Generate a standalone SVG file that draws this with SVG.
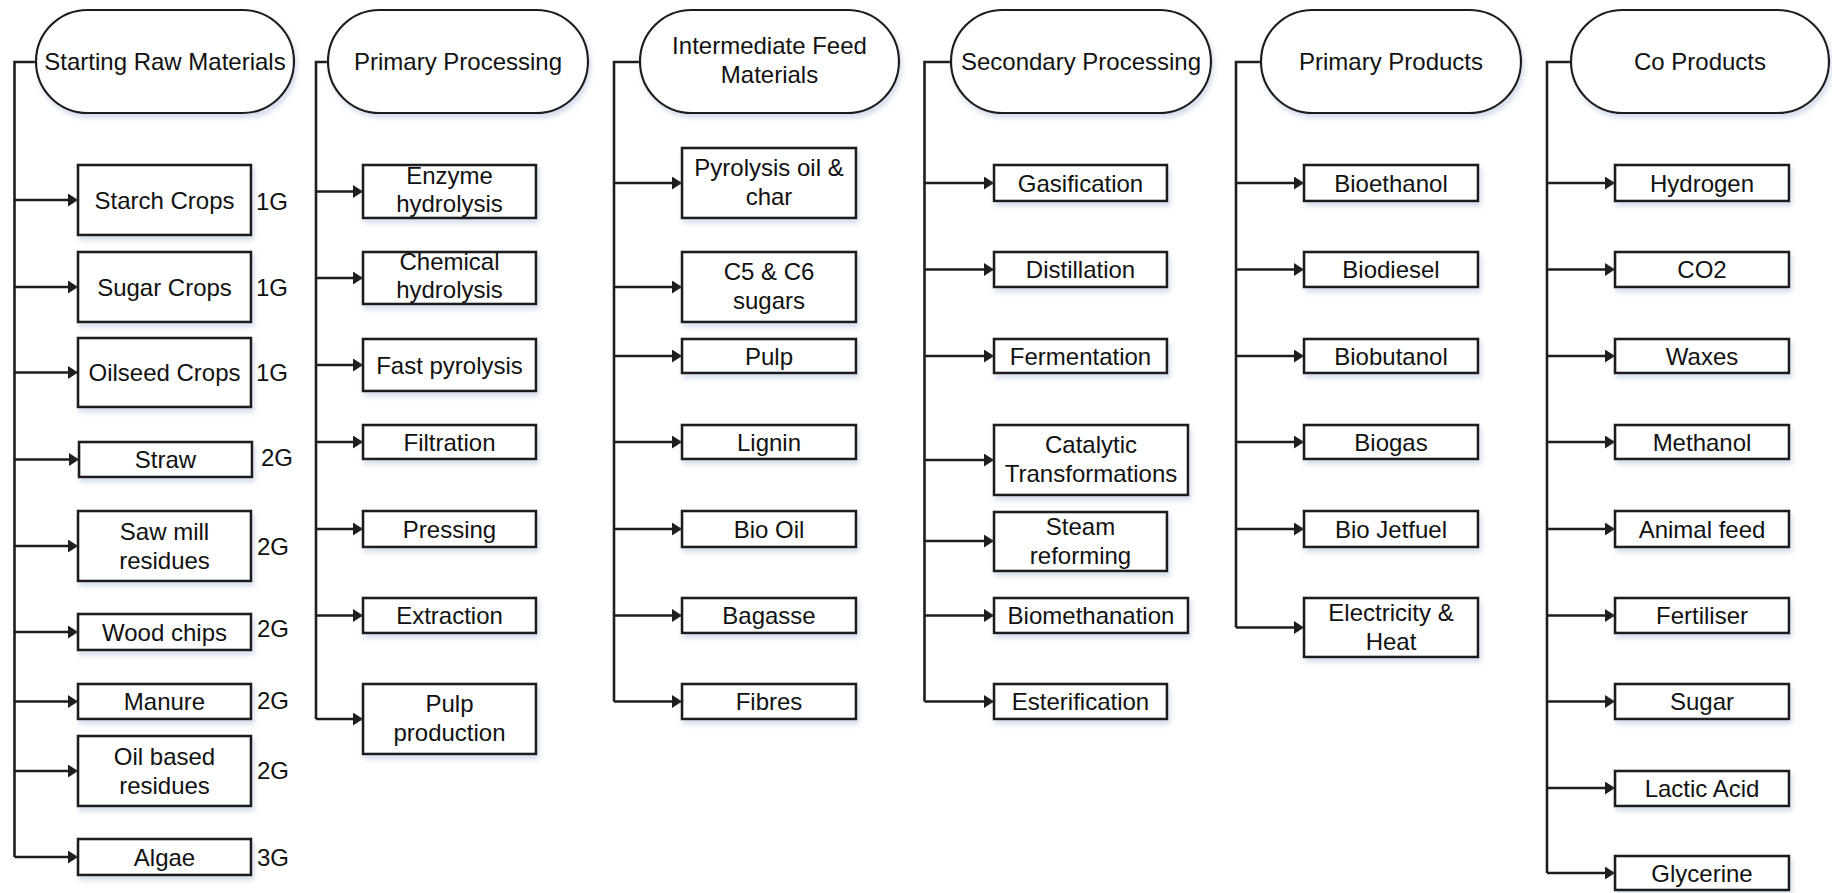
<svg xmlns="http://www.w3.org/2000/svg" width="1832" height="893" viewBox="0 0 1832 893">
<defs>
<style>
.bx{fill:#fff;stroke:#1e1e1e;stroke-width:2.6;filter:url(#sh)}
.hd{fill:#fff;stroke:#1e1e1e;stroke-width:2.2;filter:url(#sh)}
text{font-family:"Liberation Sans",Arial,sans-serif;font-size:24px;fill:#111;text-anchor:middle}
.g{text-anchor:start}
.ln{fill:none;stroke:#1e1e1e;stroke-width:2.6}
.ar{fill:none;stroke:#1e1e1e;stroke-width:2.6;marker-end:url(#ah)}
</style>
<filter id="sh" x="-10%" y="-10%" width="130%" height="140%">
<feDropShadow dx="2" dy="4" stdDeviation="2.5" flood-color="#b8c8e0" flood-opacity="0.6"/>
</filter>
<marker id="ah" markerUnits="userSpaceOnUse" markerWidth="11" markerHeight="13" refX="10" refY="6.5" orient="auto">
<path d="M0,0 L10,6.5 L0,13 z" fill="#1e1e1e"/>
</marker>
</defs>
<rect width="1832" height="893" fill="#fff"/>

<g id="connectors">
<!-- column 1 -->
<path class="ln" d="M36,62 H14.5 V857"/>
<path class="ar" d="M14.5,200 H78"/>
<path class="ar" d="M14.5,287 H78"/>
<path class="ar" d="M14.5,372.5 H78"/>
<path class="ar" d="M14.5,459.5 H79"/>
<path class="ar" d="M14.5,546 H78"/>
<path class="ar" d="M14.5,632 H78"/>
<path class="ar" d="M14.5,701.5 H78"/>
<path class="ar" d="M14.5,771 H78"/>
<path class="ar" d="M14.5,857 H78"/>
<!-- column 2 -->
<path class="ln" d="M328,62 H316 V719"/>
<path class="ar" d="M316,191.5 H363"/>
<path class="ar" d="M316,278 H363"/>
<path class="ar" d="M316,365 H363"/>
<path class="ar" d="M316,442 H363"/>
<path class="ar" d="M316,529 H363"/>
<path class="ar" d="M316,615.5 H363"/>
<path class="ar" d="M316,719 H363"/>
<!-- column 3 -->
<path class="ln" d="M640,62 H614 V701.5"/>
<path class="ar" d="M614,183 H682"/>
<path class="ar" d="M614,287 H682"/>
<path class="ar" d="M614,356 H682"/>
<path class="ar" d="M614,442 H682"/>
<path class="ar" d="M614,529 H682"/>
<path class="ar" d="M614,615.5 H682"/>
<path class="ar" d="M614,701.5 H682"/>
<!-- column 4 -->
<path class="ln" d="M951,62 H924.5 V701.5"/>
<path class="ar" d="M924.5,183 H994"/>
<path class="ar" d="M924.5,269.5 H994"/>
<path class="ar" d="M924.5,356 H994"/>
<path class="ar" d="M924.5,460 H994"/>
<path class="ar" d="M924.5,541 H994"/>
<path class="ar" d="M924.5,615.5 H994"/>
<path class="ar" d="M924.5,701.5 H994"/>
<!-- column 5 -->
<path class="ln" d="M1261,62 H1236 V627.5"/>
<path class="ar" d="M1236,183 H1304"/>
<path class="ar" d="M1236,269.5 H1304"/>
<path class="ar" d="M1236,356 H1304"/>
<path class="ar" d="M1236,442 H1304"/>
<path class="ar" d="M1236,529 H1304"/>
<path class="ar" d="M1236,627.5 H1304"/>
<!-- column 6 -->
<path class="ln" d="M1571,62 H1547 V873"/>
<path class="ar" d="M1547,183 H1615"/>
<path class="ar" d="M1547,269.5 H1615"/>
<path class="ar" d="M1547,356 H1615"/>
<path class="ar" d="M1547,442 H1615"/>
<path class="ar" d="M1547,529 H1615"/>
<path class="ar" d="M1547,615.5 H1615"/>
<path class="ar" d="M1547,701.5 H1615"/>
<path class="ar" d="M1547,788 H1615"/>
<path class="ar" d="M1547,873 H1615"/>
</g>

<!-- Headers -->
<g id="h-raw"><rect class="hd" x="36" y="10" width="258" height="103" rx="51.5"/><text x="165" y="70">Starting Raw Materials</text></g>
<g id="h-primproc"><rect class="hd" x="328" y="10" width="260" height="103" rx="51.5"/><text x="458" y="70">Primary Processing</text></g>
<g id="h-inter"><rect class="hd" x="640" y="10" width="259" height="103" rx="51.5"/><text x="769.5" y="54">Intermediate Feed</text><text x="769.5" y="83">Materials</text></g>
<g id="h-secproc"><rect class="hd" x="951" y="10" width="260" height="103" rx="51.5"/><text x="1081" y="70">Secondary Processing</text></g>
<g id="h-primprod"><rect class="hd" x="1261" y="10" width="260" height="103" rx="51.5"/><text x="1391" y="70">Primary Products</text></g>
<g id="h-coprod"><rect class="hd" x="1571" y="10" width="258" height="103" rx="51.5"/><text x="1700" y="70">Co Products</text></g>

<!-- Column 1 -->
<g id="n-starch"><rect class="bx" x="78" y="165" width="173" height="70"/><text x="164.5" y="208.5">Starch Crops</text><text class="g" x="256" y="210">1G</text></g>
<g id="n-sugar"><rect class="bx" x="78" y="252" width="173" height="70"/><text x="164.5" y="295.5">Sugar Crops</text><text class="g" x="256" y="296">1G</text></g>
<g id="n-oilseed"><rect class="bx" x="78" y="338" width="173" height="69"/><text x="164.5" y="381">Oilseed Crops</text><text class="g" x="256" y="381">1G</text></g>
<g id="n-straw"><rect class="bx" x="79" y="442" width="173" height="35"/><text x="165.5" y="468">Straw</text><text class="g" x="261" y="466">2G</text></g>
<g id="n-sawmill"><rect class="bx" x="78" y="511" width="173" height="70"/><text x="164.5" y="539.5">Saw mill</text><text x="164.5" y="568.5">residues</text><text class="g" x="257" y="555">2G</text></g>
<g id="n-wood"><rect class="bx" x="78" y="614" width="173" height="36"/><text x="164.5" y="640.5">Wood chips</text><text class="g" x="257" y="637">2G</text></g>
<g id="n-manure"><rect class="bx" x="78" y="684" width="173" height="35"/><text x="164.5" y="710">Manure</text><text class="g" x="257" y="709">2G</text></g>
<g id="n-oilres"><rect class="bx" x="78" y="736" width="173" height="70"/><text x="164.5" y="764.5">Oil based</text><text class="g" x="257" y="779">2G</text><text x="164.5" y="793.5">residues</text></g>
<g id="n-algae"><rect class="bx" x="78" y="839" width="173" height="36"/><text x="164.5" y="865.5">Algae</text><text class="g" x="257" y="866">3G</text></g>

<!-- Column 2 -->
<g id="n-enzyme"><rect class="bx" x="363" y="165" width="173" height="53"/><text x="449.5" y="184">Enzyme</text><text x="449.5" y="212">hydrolysis</text></g>
<g id="n-chemical"><rect class="bx" x="363" y="252" width="173" height="52"/><text x="449.5" y="270">Chemical</text><text x="449.5" y="298">hydrolysis</text></g>
<g id="n-fastpyro"><rect class="bx" x="363" y="339" width="173" height="52"/><text x="449.5" y="373.5">Fast pyrolysis</text></g>
<g id="n-filtration"><rect class="bx" x="363" y="425" width="173" height="34"/><text x="449.5" y="450.5">Filtration</text></g>
<g id="n-pressing"><rect class="bx" x="363" y="511" width="173" height="36"/><text x="449.5" y="537.5">Pressing</text></g>
<g id="n-extraction"><rect class="bx" x="363" y="598" width="173" height="35"/><text x="449.5" y="624">Extraction</text></g>
<g id="n-pulpprod"><rect class="bx" x="363" y="684" width="173" height="70"/><text x="449.5" y="712">Pulp</text><text x="449.5" y="741">production</text></g>

<!-- Column 3 -->
<g id="n-pyrooil"><rect class="bx" x="682" y="148" width="174" height="70"/><text x="769" y="175.5">Pyrolysis oil &amp;</text><text x="769" y="204.5">char</text></g>
<g id="n-c5c6"><rect class="bx" x="682" y="252" width="174" height="70"/><text x="769" y="280">C5 &amp; C6</text><text x="769" y="309">sugars</text></g>
<g id="n-pulp"><rect class="bx" x="682" y="339" width="174" height="34"/><text x="769" y="364.5">Pulp</text></g>
<g id="n-lignin"><rect class="bx" x="682" y="425" width="174" height="34"/><text x="769" y="450.5">Lignin</text></g>
<g id="n-biooil"><rect class="bx" x="682" y="511" width="174" height="36"/><text x="769" y="537.5">Bio Oil</text></g>
<g id="n-bagasse"><rect class="bx" x="682" y="598" width="174" height="35"/><text x="769" y="624">Bagasse</text></g>
<g id="n-fibres"><rect class="bx" x="682" y="684" width="174" height="35"/><text x="769" y="710">Fibres</text></g>

<!-- Column 4 -->
<g id="n-gasif"><rect class="bx" x="994" y="165" width="173" height="36"/><text x="1080.5" y="191.5">Gasification</text></g>
<g id="n-distil"><rect class="bx" x="994" y="252" width="173" height="35"/><text x="1080.5" y="278">Distillation</text></g>
<g id="n-ferment"><rect class="bx" x="994" y="339" width="173" height="34"/><text x="1080.5" y="364.5">Fermentation</text></g>
<g id="n-catalytic"><rect class="bx" x="994" y="425" width="194" height="70"/><text x="1091" y="453">Catalytic</text><text x="1091" y="482">Transformations</text></g>
<g id="n-steam"><rect class="bx" x="994" y="512" width="173" height="59"/><text x="1080.5" y="535">Steam</text><text x="1080.5" y="564">reforming</text></g>
<g id="n-biometh"><rect class="bx" x="994" y="598" width="194" height="35"/><text x="1091" y="624">Biomethanation</text></g>
<g id="n-ester"><rect class="bx" x="994" y="684" width="173" height="35"/><text x="1080.5" y="710">Esterification</text></g>

<!-- Column 5 -->
<g id="n-bioethanol"><rect class="bx" x="1304" y="165" width="174" height="36"/><text x="1391" y="191.5">Bioethanol</text></g>
<g id="n-biodiesel"><rect class="bx" x="1304" y="252" width="174" height="35"/><text x="1391" y="278">Biodiesel</text></g>
<g id="n-biobutanol"><rect class="bx" x="1304" y="339" width="174" height="34"/><text x="1391" y="364.5">Biobutanol</text></g>
<g id="n-biogas"><rect class="bx" x="1304" y="425" width="174" height="34"/><text x="1391" y="450.5">Biogas</text></g>
<g id="n-jetfuel"><rect class="bx" x="1304" y="511" width="174" height="36"/><text x="1391" y="537.5">Bio Jetfuel</text></g>
<g id="n-elec"><rect class="bx" x="1304" y="598" width="174" height="59"/><text x="1391" y="621">Electricity &amp;</text><text x="1391" y="650">Heat</text></g>

<!-- Column 6 -->
<g id="n-hydrogen"><rect class="bx" x="1615" y="165" width="174" height="36"/><text x="1702" y="191.5">Hydrogen</text></g>
<g id="n-co2"><rect class="bx" x="1615" y="252" width="174" height="35"/><text x="1702" y="278">CO2</text></g>
<g id="n-waxes"><rect class="bx" x="1615" y="339" width="174" height="34"/><text x="1702" y="364.5">Waxes</text></g>
<g id="n-methanol"><rect class="bx" x="1615" y="425" width="174" height="34"/><text x="1702" y="450.5">Methanol</text></g>
<g id="n-animal"><rect class="bx" x="1615" y="511" width="174" height="36"/><text x="1702" y="537.5">Animal feed</text></g>
<g id="n-fert"><rect class="bx" x="1615" y="598" width="174" height="35"/><text x="1702" y="624">Fertiliser</text></g>
<g id="n-sugar2"><rect class="bx" x="1615" y="684" width="174" height="35"/><text x="1702" y="710">Sugar</text></g>
<g id="n-lactic"><rect class="bx" x="1615" y="771" width="174" height="35"/><text x="1702" y="797">Lactic Acid</text></g>
<g id="n-glycerine"><rect class="bx" x="1615" y="856" width="174" height="34"/><text x="1702" y="881.5">Glycerine</text></g>
</svg>
